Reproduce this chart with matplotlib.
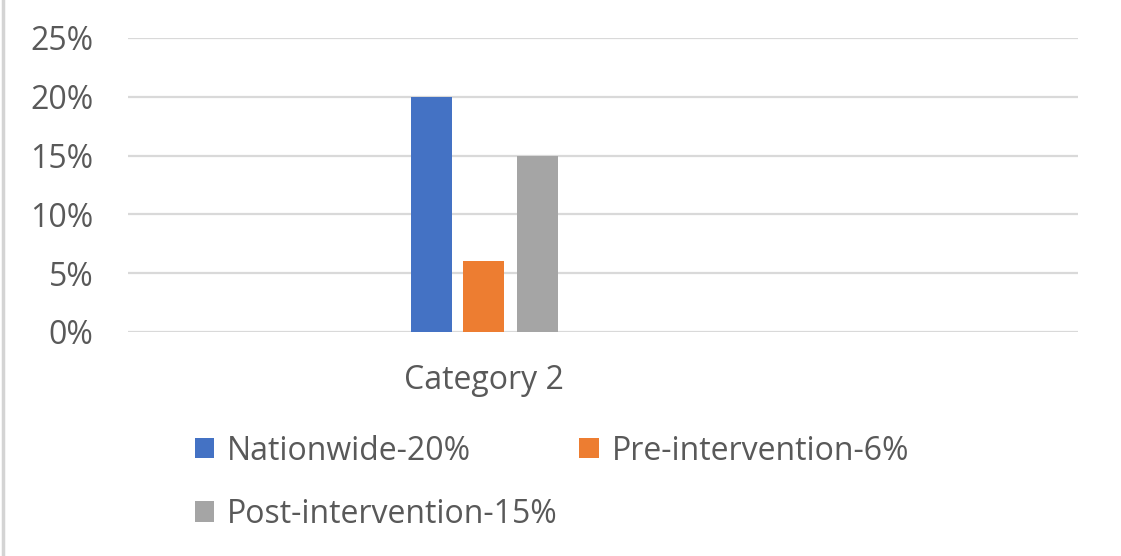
import matplotlib
matplotlib.use('Agg')
import matplotlib.pyplot as plt
from matplotlib.patches import Patch
from matplotlib.lines import Line2D

# data
categories = ['Category 2']
series_names = ['Nationwide-20%', 'Pre-intervention-6%', 'Post-intervention-15%']
series_values = [0.20, 0.06, 0.15]
series_colors = ['#4472C4', '#ED7D31', '#A5A5A5']
y_ticks = [0, 0.05, 0.10, 0.15, 0.20, 0.25]
y_tick_labels = ['0%', '5%', '10%', '15%', '20%', '25%']

plt.rcParams['font.family'] = ['Open Sans', 'DejaVu Sans']
text_color = '#595959'
fs = 23

fig = plt.figure(figsize=(11.21, 5.56), dpi=100)
ax = fig.add_axes([0.1142, 0.4029, 0.8475, 0.5288])

bar_w = 0.0863
offsets = [-0.1095, 0.0, 0.1126]
for name, val, col, off in zip(series_names, series_values, series_colors, offsets):
    ax.bar(0 + off, val, width=bar_w, color=col, label=name, zorder=3)

ax.set_xlim(-0.749, 1.251)
ax.set_ylim(0, 0.25)
ax.set_yticks(y_ticks)
ax.set_yticklabels(y_tick_labels)
ax.set_xticks([0])
ax.set_xticklabels(categories)
ax.grid(axis='y', color='#D9D9D9', linewidth=1.6, zorder=0)
for s in ax.spines.values():
    s.set_visible(False)
ax.tick_params(axis='both', length=0, colors=text_color, labelsize=fs)
ax.tick_params(axis='y', pad=25)
ax.tick_params(axis='x', pad=23)

# legend, filled row by row like the original
handles = [Patch(facecolor=c, edgecolor='none') for c in series_colors]
order = [0, 2, 1]
leg = fig.legend([handles[i] for i in order], [series_names[i] for i in order],
                 ncol=2, loc='upper left', bbox_to_anchor=(0.174, 0.2185),
                 frameon=False, fontsize=fs, handlelength=0.6, handleheight=0.6,
                 handletextpad=0.4, labelspacing=0.95, columnspacing=0.68,
                 borderaxespad=0, borderpad=0)
for t in leg.get_texts():
    t.set_color(text_color)

# thin frame on the left edge
fig.add_artist(Line2D([0.003, 0.003], [0, 1], color='#D4D4D4', linewidth=2.5,
                      transform=fig.transFigure))

fig.savefig('out.png', dpi=100)
